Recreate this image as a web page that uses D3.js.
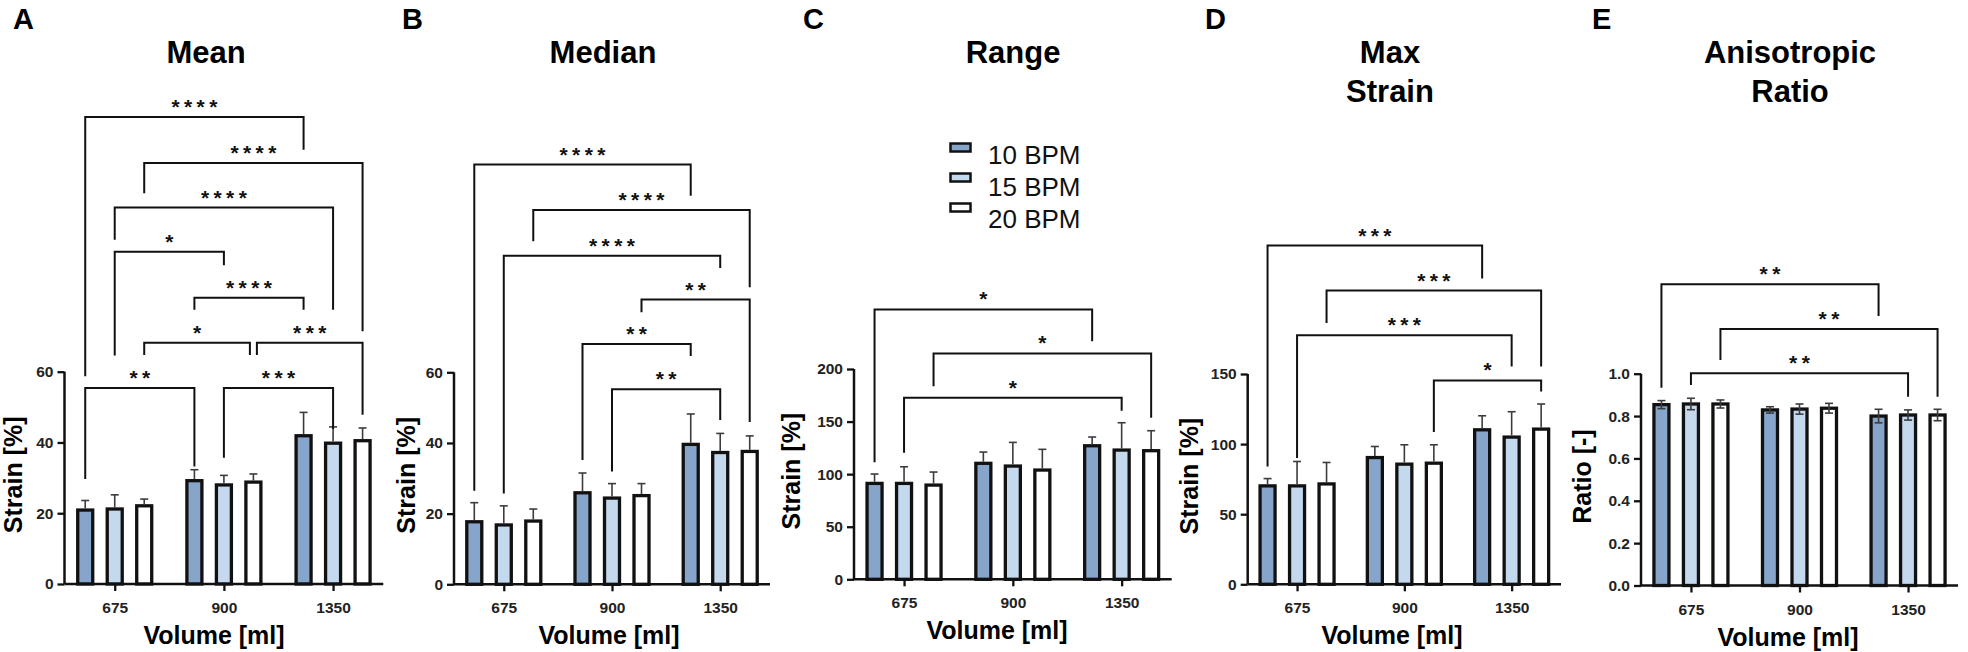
<!DOCTYPE html>
<html>
<head>
<meta charset="utf-8">
<script src="https://cdn.jsdelivr.net/npm/d3@7"></script>
<style>
  html, body { margin: 0; padding: 0; background: #fff; }
  svg text { font-family: "Liberation Sans", Arial, Helvetica, sans-serif; }
</style>
</head>
<body>
<svg id="chart" width="1968" height="652"></svg>
<script>
// ---------------- DATA ----------------
const categories = ["675", "900", "1350"];
const seriesNames = ["10 BPM", "15 BPM", "20 BPM"];

// values[series][group]
const meanValues   = [[20.9, 29.2, 41.9], [21.2, 28.0, 39.8], [22.1, 28.8, 40.5]];
const meanErrors   = [[2.7, 3.1, 6.6], [4.0, 2.7, 4.6], [1.9, 2.3, 3.6]];
const medianValues = [[17.7, 25.9, 39.6], [16.8, 24.4, 37.3], [17.9, 25.1, 37.6]];
const medianErrors = [[5.4, 5.6, 8.6], [5.4, 4.1, 5.4], [3.4, 3.4, 4.4]];
const rangeValues  = [[91.2, 110.3, 127.0], [91.2, 107.7, 122.9], [89.6, 103.9, 122.3]];
const rangeErrors  = [[8.9, 10.7, 8.3], [15.8, 22.5, 26.0], [12.4, 19.7, 19.0]];
const maxValues    = [[70.2, 90.4, 110.2], [70.2, 85.7, 105.0], [71.6, 86.4, 110.7]];
const maxErrors    = [[5.2, 7.9, 10.0], [17.4, 13.8, 18.1], [15.3, 13.1, 17.9]];
const ratioValues  = [[0.854, 0.829, 0.800], [0.857, 0.833, 0.805], [0.857, 0.837, 0.805]];
const ratioErrors  = [[0.019, 0.015, 0.032], [0.027, 0.024, 0.024], [0.019, 0.023, 0.027]];

const meanTicks   = [0, 20, 40, 60];
const medianTicks = [0, 20, 40, 60];
const rangeTicks  = [0, 50, 100, 150, 200];
const maxTicks    = [0, 50, 100, 150];
const ratioTicks  = [0, 0.2, 0.4, 0.6, 0.8, 1.0];

// significance brackets: [fromGroup, fromSeries, toGroup, toSeries, label, level, leftLegEnd, rightLegEnd]
const meanBrackets = [
  [0, 0, 2, 0, "****", 132.0, 58.7, 122.7],
  [0, 2, 2, 2, "****", 119.0, 110.4, 71.4],
  [0, 1, 2, 1, "****", 106.4, 97.3, 77.5],
  [0, 1, 1, 1, "*", 93.9, 64.6, 90.1],
  [1, 0, 2, 0, "****", 80.9, 77.5, 77.5],
  [0, 2, 1, 2, "*", 68.2, 64.7, 64.7],
  [1, 2, 2, 2, "***", 68.2, 64.7, 47.8],
  [0, 0, 1, 0, "**", 55.4, 29.7, 33.2],
  [1, 1, 2, 1, "***", 55.4, 35.7, 43.8]
];
const medianBrackets = [
  [0, 0, 2, 0, "****", 118.8, 26.5, 110.0],
  [0, 2, 2, 2, "****", 105.9, 97.1, 84.1],
  [0, 1, 2, 1, "****", 93.0, 25.7, 89.5],
  [1, 2, 2, 2, "**", 80.6, 77.0, 45.9],
  [1, 0, 2, 0, "**", 68.0, 35.2, 64.6],
  [1, 1, 2, 1, "**", 55.2, 31.9, 46.5]
];
const rangeBrackets = [
  [0, 0, 2, 0, "*", 256.7, 111.2, 226.4],
  [0, 2, 2, 2, "*", 214.8, 183.7, 153.6],
  [0, 1, 2, 1, "*", 172.6, 120.3, 160.3]
];
const maxBrackets = [
  [0, 0, 2, 0, "***", 241.6, 84.0, 218.1],
  [0, 2, 2, 2, "***", 209.5, 186.4, 155.4],
  [0, 1, 2, 1, "***", 177.6, 90.0, 155.4],
  [1, 2, 2, 2, "*", 145.4, 108.6, 137.6]
];
const ratioBrackets = [
  [0, 0, 2, 0, "**", 1.422, 0.934, 1.272],
  [0, 2, 2, 2, "**", 1.211, 1.065, 0.891],
  [0, 1, 2, 1, "**", 1.002, 0.947, 0.891]
];

// ---------------- STYLE / LAYOUT ----------------
const fills = ["#87a5cb", "#c4d8ee", "#ffffff"];
const ink = "#111111";
const errInk = "#3c3c3c";

const panels = [
  { letter: "A", letterX: 13, title: ["Mean"], titleX: 206, ylabel: "Strain [%]", ylabelX: 22, xlabelX: 214,
    x0: 64.5, x1: 383.3, y0: 584, yTop: 371.7, max: 60, ticks: meanTicks, fmt: d3.format("d"),
    values: meanValues, errors: meanErrors, brackets: meanBrackets, both: false },
  { letter: "B", letterX: 402, title: ["Median"], titleX: 603, ylabel: "Strain [%]", ylabelX: 415, xlabelX: 609,
    x0: 454, x1: 770, y0: 584.3, yTop: 372.3, max: 60, ticks: medianTicks, fmt: d3.format("d"),
    values: medianValues, errors: medianErrors, brackets: medianBrackets, both: false },
  { letter: "C", letterX: 803, title: ["Range"], titleX: 1013, ylabel: "Strain [%]", ylabelX: 800, xlabelX: 997,
    x0: 854, x1: 1171.7, y0: 579.3, yTop: 369, max: 200, ticks: rangeTicks, fmt: d3.format("d"),
    values: rangeValues, errors: rangeErrors, brackets: rangeBrackets, both: false },
  { letter: "D", letterX: 1205, title: ["Max", "Strain"], titleX: 1390, ylabel: "Strain [%]", ylabelX: 1198, xlabelX: 1392,
    x0: 1247.7, x1: 1561, y0: 584.3, yTop: 374, max: 150, ticks: maxTicks, fmt: d3.format("d"),
    values: maxValues, errors: maxErrors, brackets: maxBrackets, both: false },
  { letter: "E", letterX: 1592, title: ["Anisotropic", "Ratio"], titleX: 1790, ylabel: "Ratio [-]", ylabelX: 1591, xlabelX: 1788,
    x0: 1641, x1: 1958, y0: 585.5, yTop: 373.7, max: 1.0, ticks: ratioTicks, fmt: d3.format(".1f"),
    values: ratioValues, errors: ratioErrors, brackets: ratioBrackets, both: true }
];

const svg = d3.select("#chart");

panels.forEach(p => {
  const g = svg.append("g");
  const x = d3.scalePoint().domain(categories).range([p.x0, p.x1]).padding(0.46);
  const sub = d3.scaleBand().domain(seriesNames).range([-44.25, 44.25]).paddingInner(0.4915).paddingOuter(0.2458);
  const y = d3.scaleLinear().domain([0, p.max]).range([p.y0, p.yTop]);
  const barCx = (gi, si) => x(categories[gi]) + sub(seriesNames[si]) + sub.bandwidth() / 2;

  // panel letter
  g.append("text").attr("x", p.letterX).attr("y", 29).attr("font-size", 29).attr("font-weight", "bold")
    .attr("fill", "#000").text(p.letter);
  // title
  p.title.forEach((t, i) => {
    g.append("text").attr("x", p.titleX).attr("y", 62.5 + i * 39.5).attr("text-anchor", "middle")
      .attr("font-size", 31).attr("font-weight", "bold").attr("fill", "#000").text(t);
  });

  // bars
  const barData = [];
  seriesNames.forEach((s, si) => categories.forEach((c, gi) => {
    barData.push({ gi, si, v: p.values[si][gi], e: p.errors[si][gi] });
  }));
  g.selectAll("rect.bar").data(barData).enter().append("rect")
    .attr("class", "bar")
    .attr("x", d => x(categories[d.gi]) + sub(seriesNames[d.si]))
    .attr("width", sub.bandwidth())
    .attr("y", d => y(d.v))
    .attr("height", d => y(0) - y(d.v))
    .attr("fill", d => fills[d.si])
    .attr("stroke", ink).attr("stroke-width", 3.3);

  // error bars
  const cap = 4;
  barData.forEach(d => {
    const cx = barCx(d.gi, d.si);
    const top = y(d.v + d.e);
    const bot = p.both ? y(d.v - d.e) : y(d.v) - 1.6;
    g.append("line").attr("x1", cx).attr("x2", cx).attr("y1", top).attr("y2", bot)
      .attr("stroke", errInk).attr("stroke-width", 1.6);
    g.append("line").attr("x1", cx - cap).attr("x2", cx + cap).attr("y1", top).attr("y2", top)
      .attr("stroke", errInk).attr("stroke-width", 1.6);
    if (p.both) {
      g.append("line").attr("x1", cx - cap).attr("x2", cx + cap).attr("y1", bot).attr("y2", bot)
        .attr("stroke", errInk).attr("stroke-width", 1.6);
    }
  });

  // axes
  const yAxis = d3.axisLeft(y).tickValues(p.ticks).tickFormat(p.fmt).tickSize(7).tickPadding(4);
  const ya = g.append("g").attr("transform", `translate(${p.x0},0)`).call(yAxis);
  ya.select(".domain").attr("d", `M-0,${p.yTop}V${p.y0}`);
  const xAxis = d3.axisBottom(x).tickSize(7).tickPadding(11);
  const xa = g.append("g").attr("transform", `translate(0,${p.y0})`).call(xAxis);
  xa.select(".domain").attr("d", `M${p.x0},0H${p.x1}`);
  [ya, xa].forEach(a => {
    a.select(".domain").attr("stroke", ink).attr("stroke-width", 2.5);
    a.selectAll(".tick line").attr("stroke", ink).attr("stroke-width", 2.3);
    a.selectAll(".tick text").attr("font-size", 15.5).attr("font-weight", "bold").attr("fill", "#222")
      .attr("font-family", "'Liberation Sans', Arial, sans-serif");
  });

  // axis labels
  g.append("text").attr("x", p.xlabelX).attr("y", p.y0 + 60).attr("text-anchor", "middle")
    .attr("font-size", 25).attr("font-weight", "bold").attr("fill", "#000").text("Volume [ml]");
  const ymid = (p.y0 + p.yTop) / 2 - 3;
  g.append("text").attr("transform", `translate(${p.ylabelX},${ymid}) rotate(-90)`).attr("text-anchor", "middle")
    .attr("font-size", 25).attr("font-weight", "bold").attr("fill", "#000").text(p.ylabel);

  // brackets
  const br = p.brackets.map(b => ({ g1: b[0], s1: b[1], g2: b[2], s2: b[3], label: b[4], level: b[5], l: b[6], r: b[7],
    xl: barCx(b[0], b[1]), xr: barCx(b[2], b[3]) }));
  br.forEach(a => br.forEach(b => {
    if (a !== b && Math.abs(a.level - b.level) < 1e-6 && a.g2 === b.g1 && a.s2 === b.s1) {
      a.xr -= 3.5; b.xl += 3.5;
    }
  }));
  br.forEach(b => {
    const yl = y(b.level);
    g.append("path")
      .attr("d", `M${b.xl},${y(b.l)}V${yl}H${b.xr}V${y(b.r)}`)
      .attr("fill", "none").attr("stroke", ink).attr("stroke-width", 2);
    g.append("text").attr("x", (b.xl + b.xr) / 2 + 2.2).attr("y", yl - 3).attr("text-anchor", "middle")
      .attr("font-size", 21).attr("font-weight", "bold").attr("letter-spacing", 4.4)
      .attr("fill", ink).text(b.label);
  });
});

// legend
const legend = svg.append("g");
seriesNames.forEach((s, i) => {
  legend.append("rect").attr("x", 950.5).attr("y", 143.5 + i * 30).attr("width", 20).attr("height", 8)
    .attr("fill", fills[i]).attr("stroke", ink).attr("stroke-width", 2.5);
  legend.append("text").attr("x", 988).attr("y", 163.5 + i * 32).attr("font-size", 26)
    .attr("fill", "#111").text(s);
});
</script>
</body>
</html>
